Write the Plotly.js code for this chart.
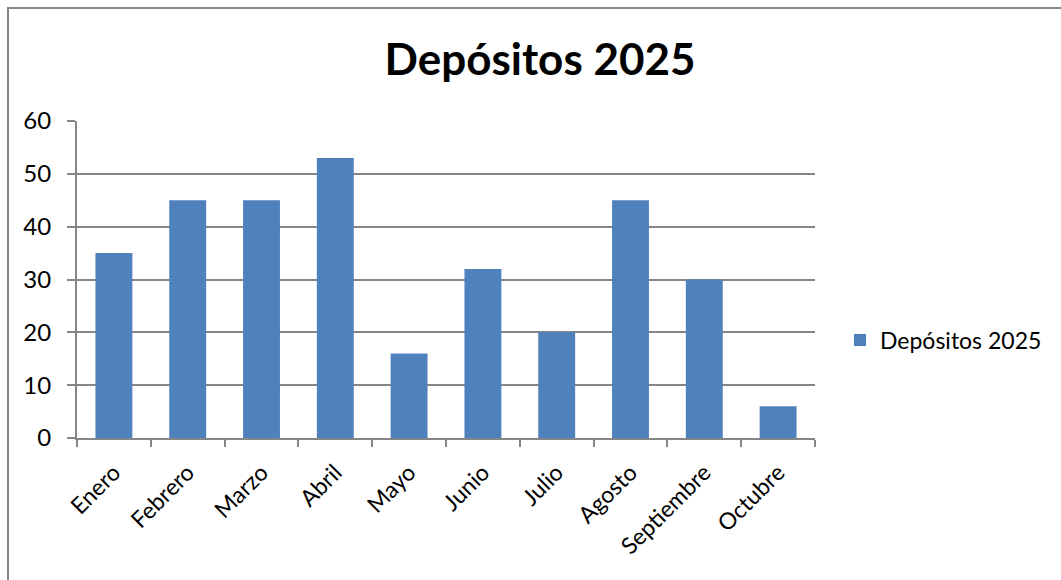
<!DOCTYPE html>
<html>
<head>
<meta charset="utf-8">
<script src="https://cdn.plot.ly/plotly-3.0.1.min.js"></script>
<style>html,body{margin:0;padding:0;background:#fff;overflow:hidden}</style>
</head>
<body>
<div id="chart" style="width:1061px;height:580px"></div>
<script>
const categories = ["Enero","Febrero","Marzo","Abril","Mayo","Junio","Julio","Agosto","Septiembre","Octubre"];
const values = [35,45,45,53,16,32,20,45,30,6];
const seriesName = "Depósitos 2025";
const yTicks = [0,10,20,30,40,50,60];

const W = 1061, H = 580;
const m = {l:77, r:246, t:121, b:142};
const pw = W - m.l - m.r, ph = H - m.t - m.b;
const px = x => (x - m.l) / pw;
const py = y => (H - m.b - y) / ph;
const axisColor = "#868686";
const font = "Lato, 'Open Sans', sans-serif";

const trace = {
  type: "bar",
  x: categories,
  y: values,
  name: seriesName,
  marker: {color: "#4F81BD"},
  showlegend: true
};

const layout = {
  width: W, height: H,
  margin: m,
  paper_bgcolor: "#fff",
  plot_bgcolor: "#fff",
  bargap: 0.5,
  showlegend: true,
  title: {text: "<b>Depósitos 2025</b>", font: {family: font, size: 44, color: "#000"},
          x: 540/W, xanchor: "center", y: 1 - 60/H, yanchor: "middle", xref: "container", yref: "container"},
  font: {family: font, color: "#000"},
  xaxis: {
    type: "category",
    tickangle: -45,
    tickfont: {family: font, size: 23, color: "#000"},
    showline: true, linecolor: axisColor, linewidth: 2,
    ticks: "outside", ticklen: 7, tickcolor: axisColor, tickwidth: 2,
    tickson: "boundaries",
    showgrid: false,
    ticklabelstandoff: 10,
    fixedrange: true
  },
  yaxis: {
    range: [0, 60],
    tickvals: yTicks,
    tickfont: {family: font, size: 24, color: "#000"},
    showline: true, linecolor: axisColor, linewidth: 2,
    ticks: "outside", ticklen: 8, tickcolor: axisColor, tickwidth: 2,
    showgrid: true, gridcolor: axisColor, gridwidth: 2,
    zeroline: false,
    ticklabelstandoff: 11,
    fixedrange: true
  },
  legend: {
    x: px(840), xanchor: "left", y: py(340), yanchor: "middle",
    font: {family: font, size: 23, color: "#000"},
    bgcolor: "rgba(0,0,0,0)",
    itemwidth: 30
  },
  shapes: [
    {type: "path", xref: "paper", yref: "paper",
     path: `M ${px(8)} ${py(H+20)} L ${px(8)} ${py(8)} L ${px(W+20)} ${py(8)}`,
     line: {color: axisColor, width: 2}}
  ]
};

Plotly.newPlot("chart", [trace], layout, {displayModeBar: false, staticPlot: true});
</script>
</body>
</html>
